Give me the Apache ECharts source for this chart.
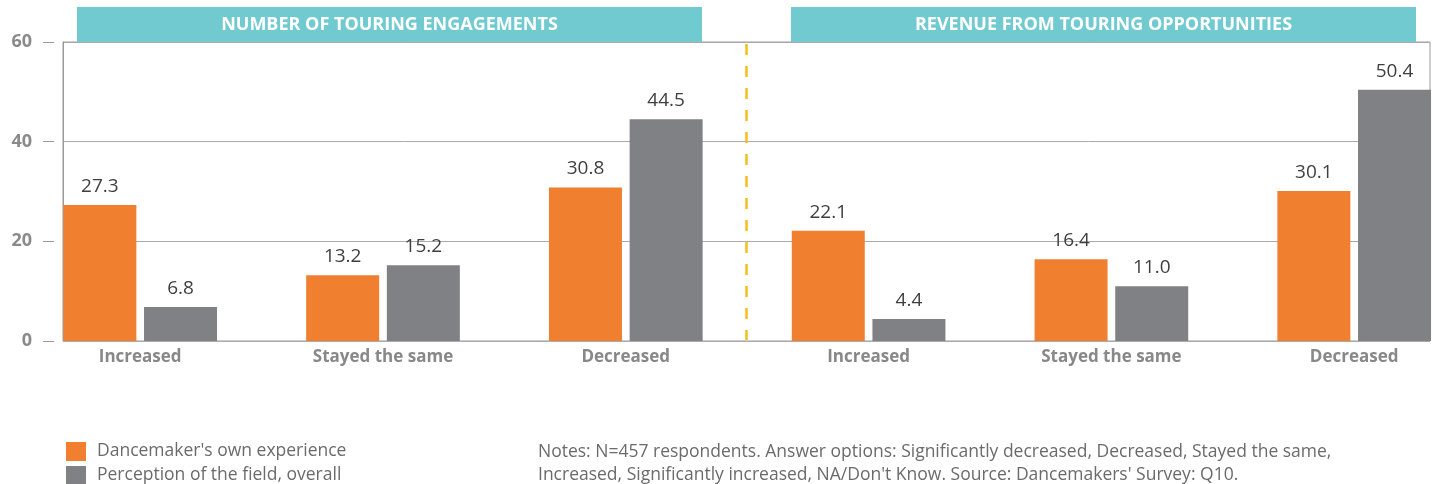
<!DOCTYPE html>
<html>
<head>
<meta charset="utf-8">
<script src="https://cdn.jsdelivr.net/npm/echarts@6/dist/echarts.min.js"></script>
<style>
  html, body { margin: 0; padding: 0; background: #fff; }
  #chart { width: 1436px; height: 484px; }
</style>
</head>
<body>
<div id="chart"></div>
<script>
var categories = ['Increased', 'Stayed the same', 'Decreased', 'Increased', 'Stayed the same', 'Decreased']
var ownExperience = [27.3, 13.2, 30.8, 22.1, 16.4, 30.1]
var fieldPerception = [6.8, 15.2, 44.5, 4.4, 11.0, 50.4]
var yTicks = [0, 20, 40, 60]
var panelTitles = ['NUMBER OF TOURING ENGAGEMENTS', 'REVENUE FROM TOURING OPPORTUNITIES']
var seriesNames = ["Dancemaker's own experience", 'Perception of the field, overall']
var notes = "Notes: N=457 respondents. Answer options: Significantly decreased, Decreased, Stayed the same,\nIncreased, Significantly increased, NA/Don't Know. Source: Dancemakers' Survey: Q10."

var FONT = '"Open Sans", "Noto Sans", sans-serif'
var ORANGE = '#f07f2f'
var GRAY = '#808184'
var TEAL = '#72cad1'

var chart = echarts.init(document.getElementById('chart'))

var valueLabel = {
  show: true,
  position: 'top',
  distance: 9,
  color: '#3f3f3f',
  fontSize: 19,
  fontFamily: FONT,
  formatter: function (p) { return p.value.toFixed(1) }
}

var legendText = { fontSize: 17.5, color: '#6b6b6b', fontFamily: FONT, padding: [0, 0, 0, 6] }

var option = {
  animation: false,
  textStyle: { fontFamily: FONT },
  legend: [
    { left: 66, top: 442, padding: 0, itemWidth: 20, itemHeight: 19, icon: 'rect', textStyle: legendText, data: [seriesNames[0]] },
    { left: 66, top: 466, padding: 0, itemWidth: 20, itemHeight: 19, icon: 'rect', textStyle: legendText, data: [seriesNames[1]] }
  ],
  grid: [
    // bars grid: category ticks sit on the bar pair centres (boundaryGap off)
    { left: 140.2, right: 81.8, top: 42, height: 299 },
    // frame grid
    { left: 63, width: 1367, top: 42, height: 299, show: true, borderColor: '#9a9a9a', borderWidth: 1, backgroundColor: 'transparent' }
  ],
  xAxis: [
    {
      type: 'category',
      gridIndex: 0,
      boundaryGap: false,
      data: categories,
      axisLine: { show: false },
      axisTick: { show: false },
      splitLine: { show: false },
      axisLabel: { margin: 8, fontSize: 17, fontWeight: 'bold', color: '#888', fontFamily: FONT }
    },
    { type: 'value', gridIndex: 1, show: false }
  ],
  yAxis: [
    { type: 'value', gridIndex: 0, min: 0, max: 60, show: false },
    {
      type: 'value', gridIndex: 1, min: 0, max: 60, interval: 20, position: 'left',
      axisLine: { show: true, lineStyle: { color: '#9a9a9a' } },
      axisTick: { show: false },
      axisLabel: { show: false },
      splitLine: { show: true, lineStyle: { color: '#aaaaaa', width: 1 } }
    },
    {
      type: 'value', gridIndex: 1, min: 0, max: 60, interval: 20, offset: 9, position: 'left',
      axisLine: { show: false },
      axisTick: { show: true, length: 11, lineStyle: { color: '#9a9a9a' } },
      axisLabel: {
        margin: 22, fontSize: 18, fontWeight: 'bold', color: '#8a8a8a', fontFamily: FONT,
        formatter: function (v) { return yTicks.indexOf(v) >= 0 ? String(v) : '' }
      },
      splitLine: { show: false }
    }
  ],
  series: [
    {
      name: seriesNames[0],
      type: 'bar',
      xAxisIndex: 0,
      yAxisIndex: 0,
      clip: false,
      data: ownExperience,
      barWidth: 73,
      barGap: '10.5%',
      itemStyle: { color: ORANGE },
      label: valueLabel
    },
    {
      name: seriesNames[1],
      type: 'bar',
      xAxisIndex: 0,
      yAxisIndex: 0,
      clip: false,
      data: fieldPerception,
      barWidth: 73,
      barGap: '10.5%',
      itemStyle: { color: GRAY },
      label: valueLabel
    }
  ],
  graphic: [
    { type: 'rect', shape: { x: 77, y: 7, width: 625, height: 35 }, style: { fill: TEAL }, z: 10 },
    { type: 'rect', shape: { x: 791, y: 7, width: 625, height: 35 }, style: { fill: TEAL }, z: 10 },
    {
      type: 'text', x: 389.5, y: 25, z: 11,
      style: { text: panelTitles[0], fill: '#fff', font: 'bold 18px ' + FONT, align: 'center', verticalAlign: 'middle' }
    },
    {
      type: 'text', x: 1103.5, y: 25, z: 11,
      style: { text: panelTitles[1], fill: '#fff', font: 'bold 18px ' + FONT, align: 'center', verticalAlign: 'middle' }
    },
    {
      type: 'line', z: 10,
      shape: { x1: 746.5, y1: 44, x2: 746.5, y2: 340 },
      style: { stroke: '#f5be1c', lineWidth: 2.5, lineDash: [11, 11] }
    },
    {
      type: 'text', x: 538, y: 441,
      style: { text: notes, fill: '#6b6b6b', font: '17.5px ' + FONT, lineHeight: 23 }
    }
  ]
}

chart.setOption(option)
</script>
</body>
</html>
